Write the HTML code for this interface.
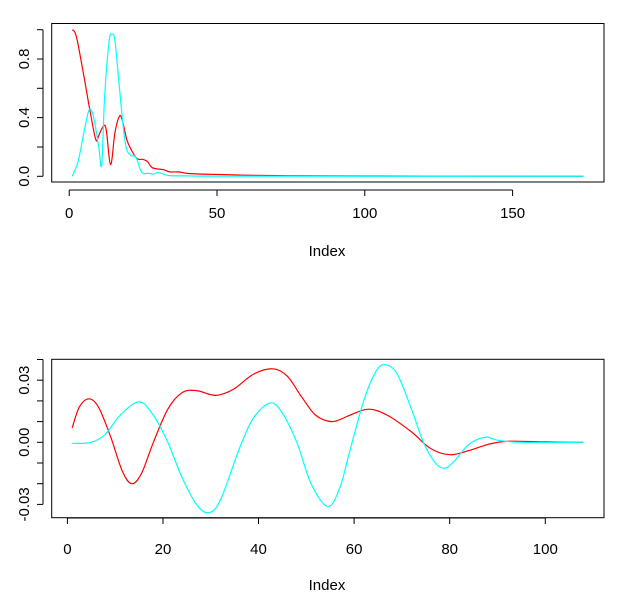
<!DOCTYPE html>
<html><head><meta charset="utf-8"><style>
html,body{margin:0;padding:0;background:#fff;}
svg{display:block;font-family:"Liberation Sans",sans-serif;}
</style></head><body>
<svg id="s" width="620" height="604" viewBox="0 0 620 604" xmlns="http://www.w3.org/2000/svg">
<rect x="0" y="0" width="620" height="604" fill="#fff"/>
<g stroke="#000" fill="none" stroke-width="1">
<rect x="51.7" y="23.5" width="552.3" height="158.5"/>
<line x1="69.2" y1="190" x2="512.6" y2="190"/>
<line x1="69.2" y1="190" x2="69.2" y2="196"/>
<line x1="217" y1="190" x2="217" y2="196"/>
<line x1="364.8" y1="190" x2="364.8" y2="196"/>
<line x1="512.6" y1="190" x2="512.6" y2="196"/>
<line x1="43" y1="176.3" x2="43" y2="29.7"/>
<line x1="43" y1="176.3" x2="37" y2="176.3"/>
<line x1="43" y1="147" x2="37" y2="147"/>
<line x1="43" y1="117.6" x2="37" y2="117.6"/>
<line x1="43" y1="88.3" x2="37" y2="88.3"/>
<line x1="43" y1="59" x2="37" y2="59"/>
<line x1="43" y1="29.7" x2="37" y2="29.7"/>
<rect x="51.7" y="359.3" width="552.3" height="158.4"/>
<line x1="67.4" y1="518" x2="545.3" y2="518"/>
<line x1="67.4" y1="518" x2="67.4" y2="524"/>
<line x1="163" y1="518" x2="163" y2="524"/>
<line x1="258.5" y1="518" x2="258.5" y2="524"/>
<line x1="354.1" y1="518" x2="354.1" y2="524"/>
<line x1="449.7" y1="518" x2="449.7" y2="524"/>
<line x1="545.3" y1="518" x2="545.3" y2="524"/>
<line x1="43" y1="504.4" x2="43" y2="359.5"/>
<line x1="43" y1="504.4" x2="37" y2="504.4"/>
<line x1="43" y1="483.7" x2="37" y2="483.7"/>
<line x1="43" y1="463" x2="37" y2="463"/>
<line x1="43" y1="442.3" x2="37" y2="442.3"/>
<line x1="43" y1="421.6" x2="37" y2="421.6"/>
<line x1="43" y1="400.9" x2="37" y2="400.9"/>
<line x1="43" y1="380.2" x2="37" y2="380.2"/>
<line x1="43" y1="359.5" x2="37" y2="359.5"/>
</g>
<g font-size="15" fill="#000" text-anchor="middle">
<text x="69.2" y="218">0</text><text x="217" y="218">50</text><text x="364.8" y="218">100</text><text x="512.6" y="218">150</text>
<text x="327" y="256">Index</text>
<text transform="translate(29,176.3) rotate(-90)">0.0</text>
<text transform="translate(29,117.6) rotate(-90)">0.4</text>
<text transform="translate(29,59) rotate(-90)">0.8</text>
<text x="67.4" y="554">0</text><text x="163" y="554">20</text><text x="258.5" y="554">40</text><text x="354.1" y="554">60</text><text x="449.7" y="554">80</text><text x="545.3" y="554">100</text>
<text x="327" y="590">Index</text>
<text transform="translate(29,504.4) rotate(-90)">-0.03</text>
<text transform="translate(29,442.3) rotate(-90)">0.00</text>
<text transform="translate(29,380.2) rotate(-90)">0.03</text>
</g>
<path id="r1" fill="none" stroke="#f00" stroke-width="1.2"/>
<path id="c1" fill="none" stroke="#0ff" stroke-width="1.2"/>
<path id="r2" fill="none" stroke="#f00" stroke-width="1.2"/>
<path id="c2" fill="none" stroke="#0ff" stroke-width="1.2"/>
</svg>
<script>
function path(pts,fx,fy){
 var p=pts.map(function(a){return [fx(a[0]),fy(a[1])];});
 var d="M"+p[0][0].toFixed(1)+","+p[0][1].toFixed(1);
 for(var i=0;i<p.length-1;i++){
  var p0=p[i>0?i-1:i],p1=p[i],p2=p[i+1],p3=p[i+2<p.length?i+2:i+1];
  var c1x=p1[0]+(p2[0]-p0[0])/6,c1y=p1[1]+(p2[1]-p0[1])/6;
  var c2x=p2[0]-(p3[0]-p1[0])/6,c2y=p2[1]-(p3[1]-p1[1])/6;
  d+=" C"+c1x.toFixed(1)+","+c1y.toFixed(1)+" "+c2x.toFixed(1)+","+c2y.toFixed(1)+" "+p2[0].toFixed(1)+","+p2[1].toFixed(1);
 }
 return d;
}
var tx=function(x){return 69.2+x*2.956;},ty=function(y){return 176.3-y*146.6;};
var bx=function(x){return 67.4+x*4.779;},by=function(y){return 442.3-y*2070;};
document.getElementById("r1").setAttribute("d",path([[1,1],[2,0.98],[3,0.9],[5,0.68],[7,0.45],[9,0.25],[10,0.28],[11.5,0.34],[12.5,0.32],[14,0.08],[15.5,0.3],[17,0.41],[18,0.38],[19.5,0.25],[21,0.18],[23,0.12],[25,0.115],[26.5,0.1],[28,0.06],[30,0.05],[32,0.045],[34,0.03],[37,0.03],[40,0.02],[45,0.015],[55,0.01],[70,0.005],[100,0.002],[174,0]],tx,ty));
document.getElementById("c1").setAttribute("d",path([[1,0],[3,0.1],[5,0.3],[6.5,0.44],[7.5,0.45],[8.5,0.38],[10,0.2],[11,0.08],[12,0.55],[13.5,0.92],[14.5,0.97],[15.5,0.92],[17,0.6],[18.5,0.3],[19.5,0.18],[21,0.14],[22,0.14],[23,0.11],[24,0.05],[25,0.02],[27,0.02],[28.5,0.015],[30,0.025],[32,0.015],[34,0.005],[40,0.003],[60,0.001],[174,0]],tx,ty));
document.getElementById("r2").setAttribute("d",path([[1,0.007],[2.5,0.017],[4.5,0.021],[6.5,0.017],[9,0.003],[11.5,-0.014],[13.5,-0.020],[15.5,-0.015],[18,0],[21,0.016],[24,0.024],[27,0.025],[30,0.023],[32,0.023],[35,0.026],[39,0.033],[43,0.0355],[46,0.032],[49,0.022],[52,0.013],[55.5,0.010],[59,0.013],[63,0.016],[67,0.013],[72,0.005],[76,-0.003],[80,-0.006],[84,-0.004],[88,-0.001],[92,0.0005],[100,0.0002],[108,0]],bx,by));
document.getElementById("c2").setAttribute("d",path([[1,-0.0005],[5,0],[8,0.004],[11,0.013],[15,0.0195],[18,0.013],[21,0],[24,-0.017],[27,-0.030],[29.5,-0.034],[32,-0.028],[36,-0.003],[39,0.012],[42.5,0.019],[45,0.014],[48,0],[51,-0.020],[54.5,-0.031],[57,-0.022],[59,-0.005],[62,0.020],[64.5,0.034],[66.5,0.0375],[69,0.033],[72,0.016],[74.5,0],[77,-0.01],[79,-0.0125],[81,-0.009],[84,-0.001],[87.5,0.0025],[90,0.001],[95,0],[108,0]],bx,by));
</script>
</body></html>
